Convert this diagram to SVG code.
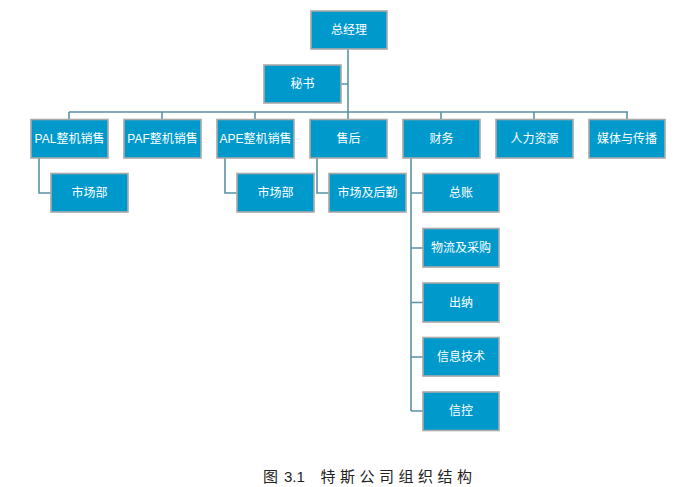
<svg xmlns="http://www.w3.org/2000/svg" width="699" height="487" viewBox="0 0 699 487">
<style>
.box{fill:#0099cc;stroke:#a9a9a9;stroke-width:1.6}
.t{fill:#ffffff;font-family:"Liberation Sans","Noto Sans CJK SC",sans-serif;font-size:12px;text-anchor:middle;dominant-baseline:central}
.c{fill:none;stroke:#5a91a6;stroke-width:1.6}
.title{fill:#222;font-family:"Liberation Sans","Noto Sans CJK SC",sans-serif;font-size:15px}
</style>
<rect width="699" height="487" fill="#ffffff"/>
<g id="connectors">
<path class="c" d="M348 49V112M341 84H348M69 112H628M69 112V119M162 112V119M255 112V119M348 112V119M441 112V119M534 112V119M627 112V119"/>
<path class="c" d="M39 158V193H51M225 158V193H237M317 158V193H329"/>
<path class="c" d="M411 158V411M411 193H423M411 248H423M411 302.5H423M411 357H423M411 411H423"/>
</g>
<g id="n-ceo"><rect class="box" x="311" y="11" width="76" height="38"/><text class="t" x="349" y="30">总经理</text></g>
<g id="n-sec"><rect class="box" x="264" y="65" width="77" height="38"/><text class="t" x="302.5" y="84">秘书</text></g>
<g id="n-pal"><rect class="box" x="31" y="119.5" width="77" height="38.5"/><text class="t" x="69.5" y="138.5">PAL整机销售</text></g>
<g id="n-paf"><rect class="box" x="124" y="119.5" width="77" height="38.5"/><text class="t" x="162.5" y="138.5">PAF整机销售</text></g>
<g id="n-ape"><rect class="box" x="217" y="119.5" width="77" height="38.5"/><text class="t" x="255.5" y="138.5">APE整机销售</text></g>
<g id="n-after"><rect class="box" x="310" y="119.5" width="77" height="38.5"/><text class="t" x="348.5" y="138.5">售后</text></g>
<g id="n-fin"><rect class="box" x="403" y="119.5" width="77" height="38.5"/><text class="t" x="441.5" y="138.5">财务</text></g>
<g id="n-hr"><rect class="box" x="496" y="119.5" width="77" height="38.5"/><text class="t" x="534.5" y="138.5">人力资源</text></g>
<g id="n-media"><rect class="box" x="589" y="119.5" width="76" height="38.5"/><text class="t" x="627" y="138.5">媒体与传播</text></g>
<g id="n-mkt1"><rect class="box" x="51" y="173.5" width="77" height="38.5"/><text class="t" x="89.5" y="192.5">市场部</text></g>
<g id="n-mkt2"><rect class="box" x="237" y="173.5" width="77" height="38.5"/><text class="t" x="275.5" y="192.5">市场部</text></g>
<g id="n-mktlog"><rect class="box" x="329" y="173.5" width="77" height="38.5"/><text class="t" x="367.5" y="192.5">市场及后勤</text></g>
<g id="n-gl"><rect class="box" x="423" y="173.5" width="76" height="38.5"/><text class="t" x="461" y="192.5">总账</text></g>
<g id="n-log"><rect class="box" x="423" y="228.5" width="76" height="38.5"/><text class="t" x="461" y="247.5">物流及采购</text></g>
<g id="n-cash"><rect class="box" x="423" y="283" width="76" height="39"/><text class="t" x="461" y="302.5">出纳</text></g>
<g id="n-it"><rect class="box" x="423" y="337.5" width="76" height="38.5"/><text class="t" x="461" y="356.5">信息技术</text></g>
<g id="n-credit"><rect class="box" x="423" y="392" width="76" height="38.5"/><text class="t" x="461" y="411">信控</text></g>
<text class="title" y="482"><tspan x="263">图</tspan><tspan x="284">3.1</tspan><tspan x="320.5" letter-spacing="4.5">特斯公司组织结构</tspan></text>
</svg>
